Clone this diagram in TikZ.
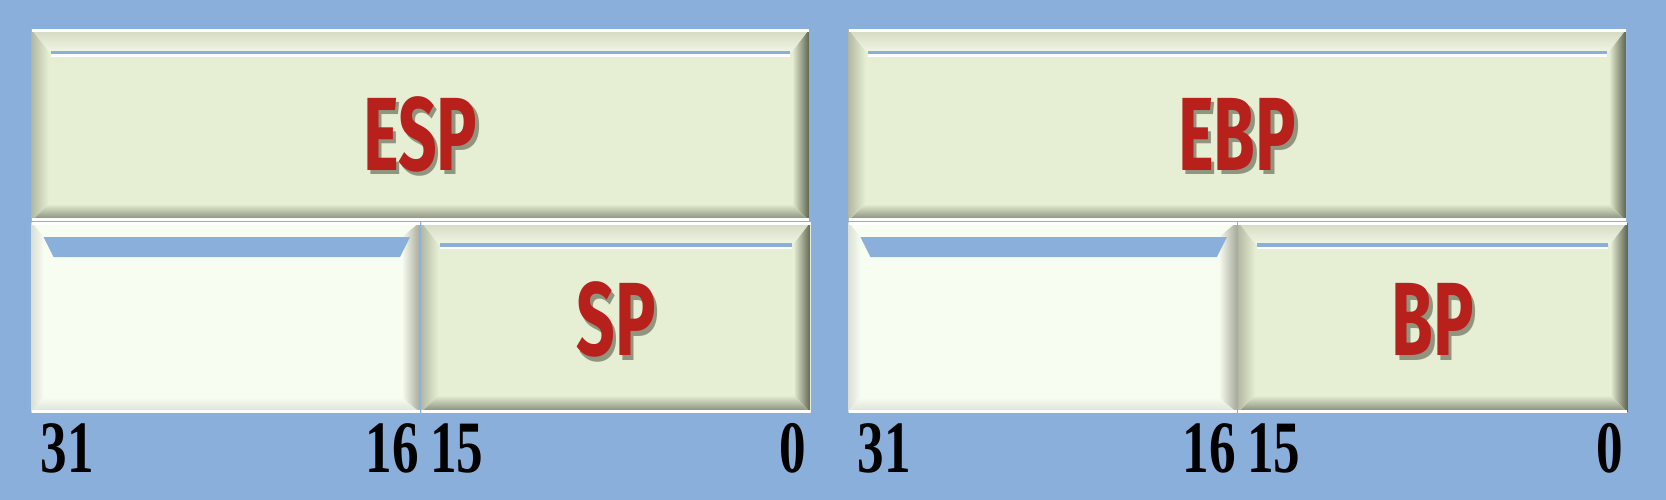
\documentclass[tikz,border=0pt]{standalone}
\usepackage{fontspec}
\newfontfamily\regfont{Fira Sans}
\newfontfamily\bitfont{Liberation Serif}
\usetikzlibrary{positioning}
\definecolor{bgblue}{HTML}{8BAFDB}
\definecolor{regface}{HTML}{E6EFD3}
\definecolor{hiface}{HTML}{F7FDF0}
\definecolor{regred}{HTML}{B8201C}
\definecolor{regshadow}{HTML}{8F957F}
\definecolor{bevlight}{HTML}{D3DAC0}
\definecolor{bevdark}{HTML}{7E8570}
\definecolor{bevdarker}{HTML}{5C634F}
\definecolor{hibevel}{HTML}{DCE0D6}
\definecolor{hibevdark}{HTML}{A7AA9C}
% red register name with its grey shadow
\newcommand\regname[2][-11pt]{\raisebox{#1}[0pt][0pt]{\scalebox{0.65}[1]{\regfont\bfseries\fontsize{29.6}{30}\selectfont
  \rlap{\hspace{1.5pt}\raisebox{-1.2pt}{\color{regshadow}#2}}\color{regred}#2}}}
\newcommand\bitlabel[1]{\scalebox{0.72}[1]{\bitfont\bfseries\fontsize{21}{21}\selectfont #1}}
\tikzset{
  corners/.code={\coordinate (pnw) at (path picture bounding box.north west);
    \coordinate (pne) at (path picture bounding box.north east);
    \coordinate (psw) at (path picture bounding box.south west);
    \coordinate (pse) at (path picture bounding box.south east);},
  regbox/.style={rectangle,inner sep=0pt,fill=regface,minimum width=7.77cm,minimum height=1.91cm,
    path picture={
      \path[corners];
      \fill[top color=bevlight,bottom color=regface!60!white] (pnw)--(pne)--([shift={(-17,-22)}]pne)--([shift={(17,-22)}]pnw)--cycle;
      \fill[left color=bevlight!85!black,right color=regface] (pnw)--([shift={(17,-22)}]pnw)--([shift={(17,17)}]psw)--(psw)--cycle;
      \fill[top color=regface,bottom color=bevdark] (psw)--([shift={(17,17)}]psw)--([shift={(-17,17)}]pse)--(pse)--cycle;
      \fill[left color=regface,right color=bevdarker] (pse)--([shift={(-17,17)}]pse)--([shift={(-17,-22)}]pne)--(pne)--cycle;
      \draw[bgblue,line width=0.035cm] ([shift={(19,-23)}]pnw)--([shift={(-19,-23)}]pne);
      \draw[white,line width=0.025cm] ([shift={(19,-26)}]pnw)--([shift={(-19,-26)}]pne);
      \draw[white,line width=0.05cm] (pnw)--(pne) (psw)--(pse);
    }},
  hibox/.style={rectangle,inner sep=0pt,fill=hiface,minimum width=3.88cm,minimum height=1.9cm,
    path picture={
      \path[corners];
      \fill[left color=hibevel,right color=hiface] (pnw)--([shift={(12,-15)}]pnw)--([shift={(12,15)}]psw)--(psw)--cycle;
      \fill[top color=hiface,bottom color=hibevel] (psw)--([shift={(12,15)}]psw)--([shift={(-18,15)}]pse)--(pse)--cycle;
      \fill[left color=hiface,right color=hibevdark] (pse)--([shift={(-18,15)}]pse)--([shift={(-18,-15)}]pne)--(pne)--cycle;
      \fill[bgblue] ([shift={(12,-15)}]pnw)--([shift={(-10,-15)}]pne)--([shift={(-20,-35)}]pne)--([shift={(22,-35)}]pnw)--cycle;
      \draw[white,line width=0.05cm] (pnw)--(pne) (psw)--(pse);
    }},
  bitnum/.style={inner sep=0pt}
}
\begin{document}
\begin{tikzpicture}[x=0.01cm,y=0.01cm]
  \fill[bgblue] (0,0) rectangle (1666,500);
  % ESP / SP
  \node[regbox,anchor=north west] (esp) at (31,471) {\regname[-12.9pt]{ESP}};
  \node[hibox,below right=0pt and 0pt of esp.south west] (esphi) {};
  \node[regbox,minimum width=3.89cm,minimum height=1.9cm,right=0pt of esphi] (sp) {\regname{SP}};
  % EBP / BP
  \node[regbox,right=0.38cm of esp] (ebp) {\regname[-12.9pt]{EBP}};
  \node[hibox,below right=0pt and 0pt of ebp.south west] (ebphi) {};
  \node[regbox,minimum width=3.89cm,minimum height=1.9cm,right=0pt of ebphi] (bp) {\regname{BP}};
  % bit numbers
  \node[bitnum,below right=0.1cm and 0.09cm of esphi.south west] (esp31) {\bitlabel{31}};
  \node[bitnum,below left=0.1cm and 0.01cm of esphi.south east] (esp16) {\bitlabel{16}};
  \node[bitnum,below right=0.1cm and 0.09cm of sp.south west] (sp15) {\bitlabel{15}};
  \node[bitnum,below left=0.1cm and 0.04cm of sp.south east] (sp0) {\bitlabel{0}};
  \node[bitnum,below right=0.1cm and 0.09cm of ebphi.south west] (ebp31) {\bitlabel{31}};
  \node[bitnum,below left=0.1cm and 0.01cm of ebphi.south east] (ebp16) {\bitlabel{16}};
  \node[bitnum,below right=0.1cm and 0.09cm of bp.south west] (bp15) {\bitlabel{15}};
  \node[bitnum,below left=0.1cm and 0.04cm of bp.south east] (bp0) {\bitlabel{0}};
\end{tikzpicture}
\end{document}
